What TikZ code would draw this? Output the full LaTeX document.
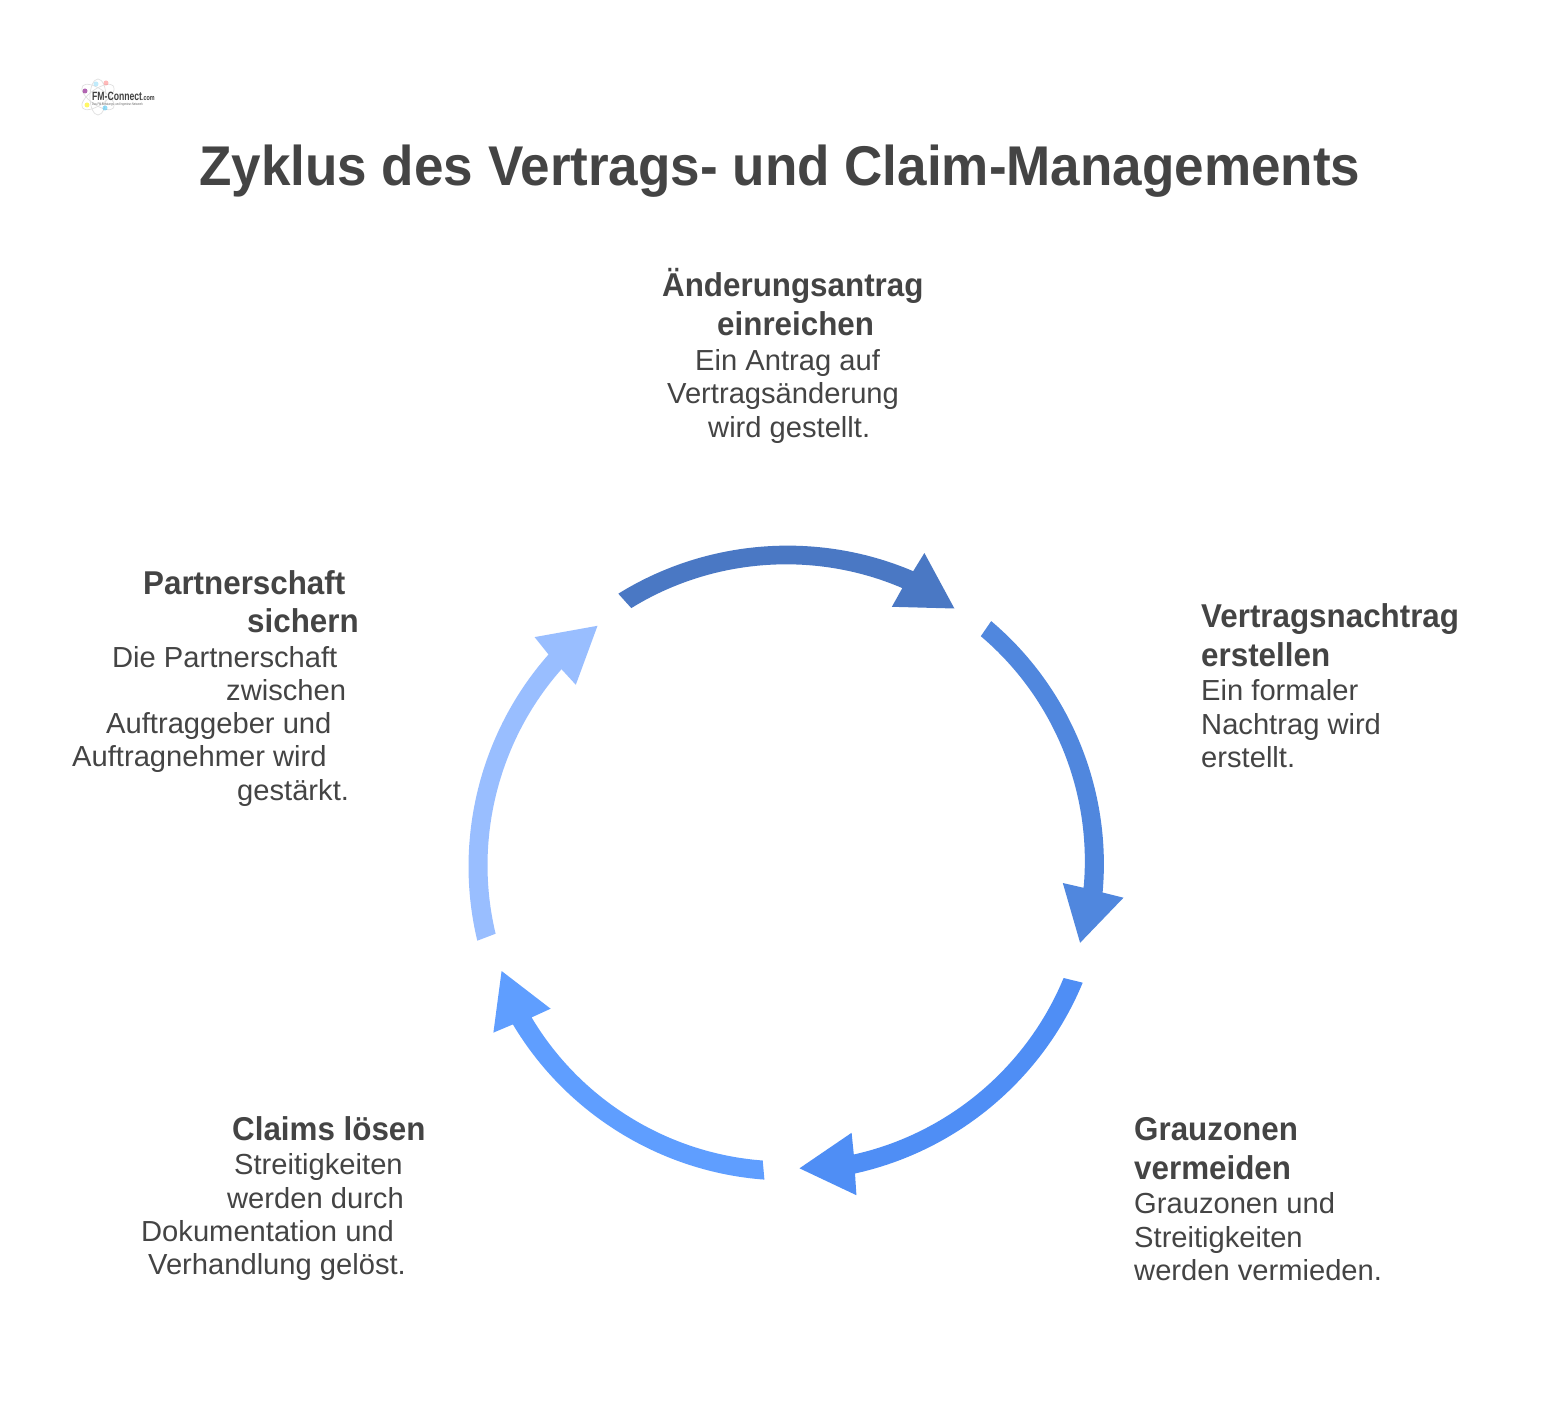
\documentclass[tikz,border=0pt]{standalone}
\usepackage{fontspec}
\setmainfont{Liberation Sans}
\newfontfamily\headf[FakeStretch=.95,BoldFeatures={FakeStretch=.95}]{Liberation Sans}
\newfontfamily\titlef[FakeStretch=.947,BoldFeatures={FakeStretch=.947}]{Liberation Sans}
\newfontfamily\bodyf[FakeStretch=1.005]{Liberation Sans}
\newfontfamily\logof[FakeStretch=.72,BoldFeatures={FakeStretch=.72}]{Liberation Sans}
\definecolor{ink}{HTML}{444444}
\definecolor{aone}{HTML}{4A78C4}
\definecolor{atwo}{HTML}{5087DE}
\definecolor{athree}{HTML}{4F8EF5}
\definecolor{afour}{HTML}{5F9EFF}
\definecolor{afive}{HTML}{99BEFF}
\tikzset{
 titletext/.style={inner sep=0pt,anchor=base west,text=ink,font=\titlef\fontsize{56}{60}\selectfont\bfseries},
 headtext/.style={inner sep=0pt,anchor=base west,text=ink,font=\headf\fontsize{33}{38}\selectfont\bfseries},
 bodytext/.style={inner sep=0pt,anchor=base west,text=ink,font=\bodyf\fontsize{29}{33}\selectfont},
 outer edge/.style={bend left=27.5,looseness=.9},
 inner edge/.style={bend right=27.5,looseness=.9},
 logodot/.style={circle,inner sep=0pt,minimum size=5pt,fill opacity=.6},
 logoring/.style={draw=black!12,line width=.7pt}
}
\begin{document}
\begin{tikzpicture}[x=1pt,y=-1pt]
\useasboundingbox[fill=white] (0,0) rectangle (1558,1420);
% logo
\draw[logoring,rotate around={35:(98,97)}] (98,97) ellipse [x radius=19pt,y radius=8pt];
\draw[logoring,rotate around={-35:(98,97)}] (98,97) ellipse [x radius=19pt,y radius=8pt];
\draw[logoring] (98,97) ellipse [x radius=8pt,y radius=18pt];
\node[logodot,fill=violet] (l1) at (85,91) {};
\node[logodot,fill=red!45] (l2) at (106,83) {};
\node[logodot,fill=cyan!40] (l3) at (96,84) {};
\node[logodot,fill=yellow] (l4) at (87,105) {};
\node[logodot,fill=cyan!70] (l5) at (105,108) {};
\node[inner sep=0pt,anchor=base west,text=black!75,font=\logof\fontsize{12}{13}\selectfont\bfseries] (l6) at (92,101) {FM-Connect\fontsize{7.5}{8}\selectfont.com};
\node[inner sep=0pt,anchor=base west,text=black!60,font=\logof\fontsize{3.6}{4}\selectfont] (l7) at (92,106) {Das FM Beratungs- und Ingenieur-Netzwerk};
% title
\node[titletext] (t) at (199,186) {Zyklus des Vertrags- und Claim-Managements};
% arrows
\fill[aone] (618.3,593.7) to[outer edge] (913.2,571.2) -- (924.4,553) -- (954.4,608.5) -- (891.9,606.8) -- (902.3,588.1) to[inner edge] (631.3,608.1) -- cycle;
\fill[atwo] (991.2,621.1) to[outer edge] (1102.6,892.5) -- (1123.5,897.7) -- (1080.1,942.8) -- (1062.8,883) -- (1083.6,887.8) to[inner edge] (980.8,636.2) -- cycle;
\fill[athree] (1082.7,982.7) to[outer edge] (855,1173.5) -- (856.4,1195.2) -- (799.5,1168.3) -- (851.6,1132.8) -- (853.8,1154.5) to[inner edge] (1063.6,978) -- cycle;
\fill[afour] (764.4,1179.6) to[outer edge] (512.9,1024.4) -- (493.4,1032.6) -- (501.6,971) -- (550.6,1008.7) -- (531.6,1017.4) to[inner edge] (762.7,1160.5) -- cycle;
\fill[afive] (477.3,940.7) to[outer edge] (548.5,654.5) -- (534.6,637.1) -- (597.5,625.8) -- (575.8,684.8) -- (561.5,669.2) to[inner edge] (495.6,933.7) -- cycle;
% top
\node[headtext] (a1) at (662,297) {Änderungsantrag};
\node[headtext] (a2) at (717,336) {einreichen};
\node[bodytext] (a3) at (695,370.5) {Ein Antrag auf};
\node[bodytext] (a4) at (667,403.5) {Vertragsänderung};
\node[bodytext] (a5) at (708,437) {wird gestellt.};
% right
\node[headtext] (b1) at (1201,627) {Vertragsnachtrag};
\node[headtext] (b2) at (1201,666) {erstellen};
\node[bodytext] (b3) at (1201,700) {Ein formaler};
\node[bodytext] (b4) at (1201,734) {Nachtrag wird};
\node[bodytext] (b5) at (1201,767) {erstellt.};
% bottom right
\node[headtext] (d1) at (1134,1140) {Grauzonen};
\node[headtext] (d2) at (1134,1179) {vermeiden};
\node[bodytext] (d3) at (1134,1213) {Grauzonen und};
\node[bodytext] (d4) at (1134,1247) {Streitigkeiten};
\node[bodytext] (d5) at (1134,1280) {werden vermieden.};
% bottom left
\node[headtext] (e1) at (232,1140) {Claims lösen};
\node[bodytext] (e2) at (234,1174) {Streitigkeiten};
\node[bodytext] (e3) at (227,1208) {werden durch};
\node[bodytext] (e4) at (141,1241) {Dokumentation und};
\node[bodytext] (e5) at (148,1274) {Verhandlung gelöst.};
% left
\node[headtext] (f1) at (143,594) {Partnerschaft};
\node[headtext] (f2) at (247,632) {sichern};
\node[bodytext] (f3) at (112,667) {Die Partnerschaft};
\node[bodytext] (f4) at (226,700) {zwischen};
\node[bodytext] (f5) at (106,733) {Auftraggeber und};
\node[bodytext] (f6) at (72,766) {Auftragnehmer wird};
\node[bodytext] (f7) at (237,800) {gestärkt.};
\end{tikzpicture}
\end{document}
